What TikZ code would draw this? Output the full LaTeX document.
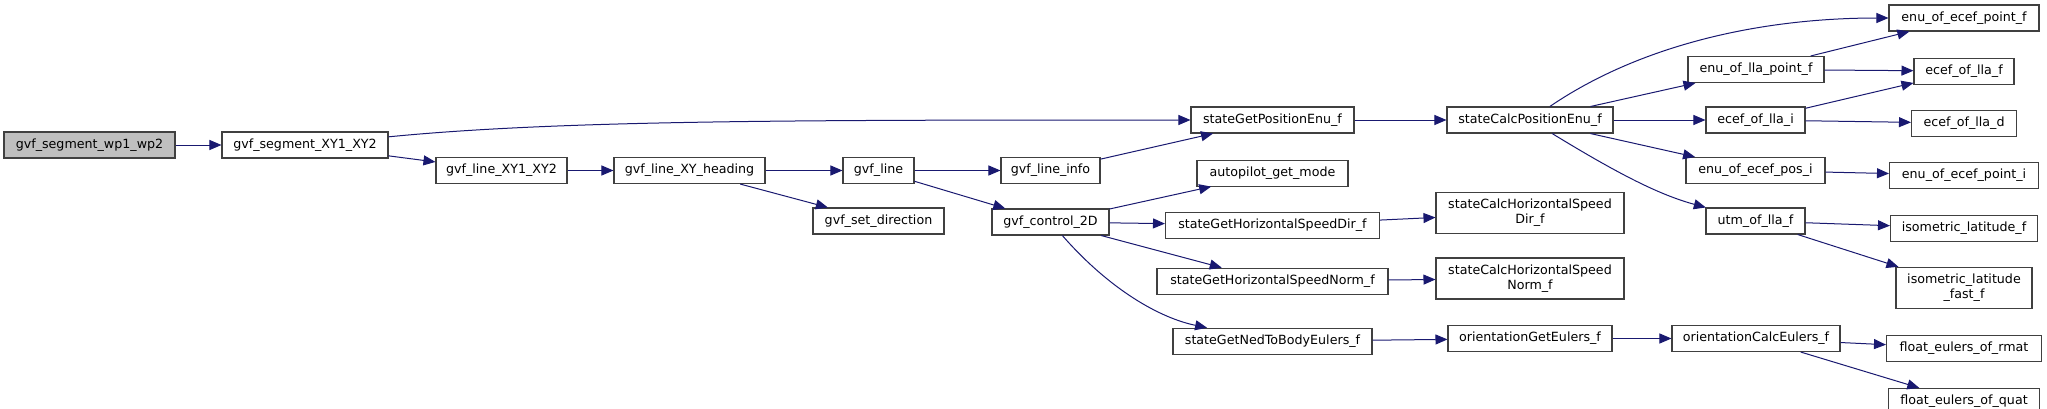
\documentclass[tikz,border=0pt]{standalone}
\usepackage{fontspec}
\setmainfont{DejaVu Sans}
\usepackage{tikz}
\usetikzlibrary{arrows.meta, positioning}
\definecolor{callblue}{RGB}{25, 25, 112}
\definecolor{boxgray}{RGB}{64, 64, 64}
\definecolor{rootgray}{RGB}{191, 191, 191}

\begin{document}
\begin{tikzpicture}[
    x=0.75pt, y=-0.75pt,
    func/.style={rectangle, draw=boxgray, line width=0.8pt, fill=white, inner sep=1pt,
                 minimum height=19.5pt, align=center, font=\fontsize{9.5}{11.25}\selectfont},
    root/.style={func, fill=rootgray},
    twoline/.style={minimum height=30.75pt},
    call/.style={-{Triangle[length=9pt, width=7.5pt]}, line width=0.75pt, callblue}
]
\useasboundingbox (0,0) rectangle (2047,408);
% caller chain
\node (wp) [root, minimum width=128.25pt] at (89.5,145) {gvf\_segment\_wp1\_wp2};
\node (segxy) [func, minimum width=124.5pt] at (305,145) {gvf\_segment\_XY1\_XY2};
\node (linexy) [func, minimum width=98.25pt] at (501.5,170.5) {gvf\_line\_XY1\_XY2};
\node (heading) [func, minimum width=113.25pt] at (689.5,170.5) {gvf\_line\_XY\_heading};
\node (gvfline) [func, minimum width=53.25pt] at (878.5,170.5) {gvf\_line};
\node (setdir) [func, minimum width=98.25pt] at (878.5,221) {gvf\_set\_direction};
\node (lineinfo) [func, minimum width=74.25pt] at (1050.5,170.5) {gvf\_line\_info};
\node (ctrl) [func, minimum width=87.75pt] at (1050.5,222) {gvf\_control\_2D};
% state getters
\node (posenu) [func, minimum width=122.25pt] at (1272.5,120) {stateGetPositionEnu\_f};
\node (autopilot) [func, minimum width=113.25pt, below=19.5pt of posenu] {autopilot\_get\_mode};
\node (hsdir) [func, minimum width=160.5pt, below=18.75pt of autopilot] {stateGetHorizontalSpeedDir\_f};
\node (hsnorm) [func, minimum width=173.25pt, below=21.75pt of hsdir] {stateGetHorizontalSpeedNorm\_f};
\node (nedbody) [func, minimum width=149.25pt, below=24.75pt of hsnorm] {stateGetNedToBodyEulers\_f};
% state calculations
\node (calcpos) [func, minimum width=124.5pt] at (1530,120) {stateCalcPositionEnu\_f};
\node (calchsdir) [func, twoline, minimum width=141pt] at (1530,213) {stateCalcHorizontalSpeed\\Dir\_f};
\node (calchsnorm) [func, twoline, minimum width=141pt] at (1530,278.5) {stateCalcHorizontalSpeed\\Norm\_f};
\node (orget) [func, minimum width=123pt] at (1530,338.5) {orientationGetEulers\_f};
% conversions
\node (enullapf) [func, minimum width=102pt] at (1756,69.5) {enu\_of\_lla\_point\_f};
\node (ecefi) [func, minimum width=74.25pt] at (1755.5,120) {ecef\_of\_lla\_i};
\node (enuposi) [func, minimum width=104.25pt] at (1755.5,170.5) {enu\_of\_ecef\_pos\_i};
\node (utm) [func, minimum width=74.25pt] at (1755.5,221) {utm\_of\_lla\_f};
\node (orcalc) [func, minimum width=126pt] at (1756,338.5) {orientationCalcEulers\_f};
% leaves
\node (enuecefpf) [func, minimum width=112.5pt] at (1964,18) {enu\_of\_ecef\_point\_f};
\node (ecefllaf) [func, minimum width=75pt, below=19.5pt of enuecefpf] {ecef\_of\_lla\_f};
\node (ecefllad) [func, minimum width=78.75pt, below=18.75pt of ecefllaf] {ecef\_of\_lla\_d};
\node (enuecefpi) [func, minimum width=111.75pt, below=18.75pt of ecefllad] {enu\_of\_ecef\_point\_i};
\node (isolatf) [func, minimum width=110.25pt, below=19.5pt of enuecefpi] {isometric\_latitude\_f};
\node (isofast) [func, twoline, minimum width=102pt, below=18.75pt of isolatf] {isometric\_latitude\\\_fast\_f};
\node (rmat) [func, minimum width=116.25pt, below=19.5pt of isofast] {float\_eulers\_of\_rmat};
\node (quat) [func, minimum width=113.25pt, below=19.5pt of rmat] {float\_eulers\_of\_quat};
% calls
\draw [call] (wp) -- (segxy);
\draw [call] (segxy) .. controls (560,120) and (800,120) .. (posenu);
\draw [call] (segxy) -- (linexy);
\draw [call] (linexy) -- (heading);
\draw [call] (heading) -- (gvfline);
\draw [call] (heading) -- (setdir);
\draw [call] (gvfline) -- (lineinfo);
\draw [call] (gvfline) -- (ctrl);
\draw [call] (lineinfo) -- (posenu);
\draw [call] (posenu) -- (calcpos);
\draw [call] (ctrl) -- (autopilot);
\draw [call] (ctrl) -- (hsdir);
\draw [call] (ctrl) -- (hsnorm);
\draw [call] (ctrl) .. controls (1110,290) and (1160,318) .. (nedbody);
\draw [call] (hsdir) -- (calchsdir);
\draw [call] (hsnorm) -- (calchsnorm);
\draw [call] (nedbody) -- (orget);
\draw [call] (orget) -- (orcalc);
\draw [call] (orcalc) -- (rmat);
\draw [call] (orcalc) -- (quat);
\draw [call] (calcpos) .. controls (1640,45) and (1760,18) .. (enuecefpf);
\draw [call] (calcpos) -- (enullapf);
\draw [call] (calcpos) -- (ecefi);
\draw [call] (calcpos) -- (enuposi);
\draw [call] (calcpos) .. controls (1620,175) and (1660,195) .. (utm);
\draw [call] (enullapf) -- (enuecefpf);
\draw [call] (enullapf) -- (ecefllaf);
\draw [call] (ecefi) -- (ecefllaf);
\draw [call] (ecefi) -- (ecefllad);
\draw [call] (enuposi) -- (enuecefpi);
\draw [call] (utm) -- (isolatf);
\draw [call] (utm) -- (isofast);
\end{tikzpicture}
\end{document}
